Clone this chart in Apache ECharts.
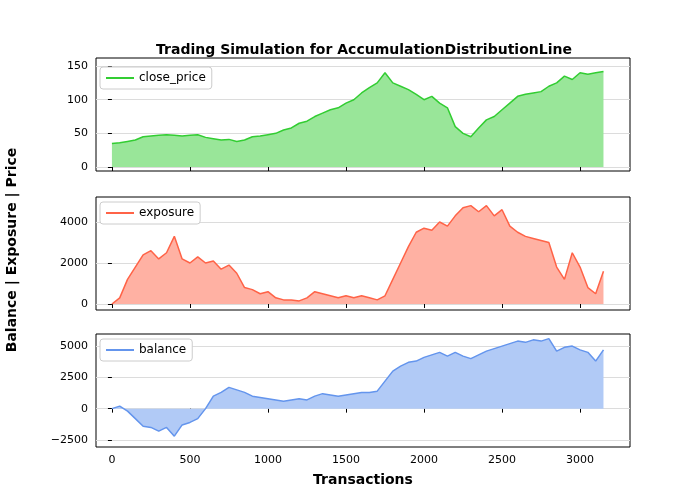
<!DOCTYPE html>
<html lang="en">
<head>
    <meta charset="UTF-8">
    <title>Trading Simulation</title>
    <script src="https://cdn.jsdelivr.net/npm/echarts@6/dist/echarts.min.js"></script>
    <style>
        * { margin: 0; padding: 0; }
        #chart { width: 700px; height: 500px; }
    </style>
</head>
<body>
    <div id="chart"></div>
    <script>
        // transactions sampled every 50
        const steps = []
        for (let i = 0; i <= 3150; i += 50) steps.push(i)

        const closePrice = [35, 36, 38, 40, 45, 46, 47, 48, 47, 46, 47, 48, 44, 42, 40, 41, 38, 40, 45, 46, 48, 50, 55, 58,
            65, 68, 75, 80, 85, 88, 95, 100, 110, 118, 125, 140, 125, 120, 115, 108, 100, 105, 95, 88, 60, 50, 45, 58,
            70, 75, 85, 95, 105, 108, 110, 112, 120, 125, 135, 130, 140, 138, 140, 142]
        const exposure = [0, 300, 1200, 1800, 2400, 2600, 2200, 2500, 3300, 2200, 2000, 2300, 2000, 2100, 1700, 1900,
            1500, 800, 700, 500, 600, 300, 200, 200, 150, 300, 600, 500, 400, 300, 400, 300, 400, 300, 200, 400,
            1200, 2000, 2800, 3500, 3700, 3600, 4000, 3800, 4300, 4700, 4800, 4500, 4800, 4300, 4600, 3800, 3500,
            3300, 3200, 3100, 3000, 1800, 1200, 2500, 1800, 800, 500, 1600]
        const balance = [0, 200, -200, -800, -1400, -1500, -1800, -1500, -2200, -1300, -1100, -800, 0, 1000, 1300, 1700,
            1500, 1300, 1000, 900, 800, 700, 600, 700, 800, 700, 1000, 1200, 1100, 1000, 1100, 1200, 1300, 1300,
            1400, 2200, 3000, 3400, 3700, 3800, 4100, 4300, 4500, 4200, 4500, 4200, 4000, 4300, 4600, 4800, 5000,
            5200, 5400, 5300, 5500, 5400, 5600, 4600, 4900, 5000, 4700, 4500, 3800, 4700]
        const xTicks = [0, 500, 1000, 1500, 2000, 2500, 3000]

        const panels = [
            { name: 'close_price', data: closePrice, line: '#32cd32', fill: '#99e699', min: -6, max: 162, ticks: [0, 50, 100, 150], top: 58, legendTop: 67 },
            { name: 'exposure', data: exposure, line: '#ff6347', fill: '#ffb1a3', min: -293, max: 5220, ticks: [0, 2000, 4000], top: 197, legendTop: 202 },
            { name: 'balance', data: balance, line: '#6495ed', fill: '#b1caf6', min: -3065, max: 5967, ticks: [-2500, 0, 2500, 5000], top: 334, legendTop: 339 }
        ]
        const font = 'DejaVu Sans'

        const myChart = echarts.init(document.querySelector('#chart'))
        const option = {
            animation: false,
            textStyle: { fontFamily: font },
            title: {
                text: 'Trading Simulation for AccumulationDistributionLine',
                left: 359, top: 38, textAlign: 'center',
                textStyle: { fontSize: 14, fontWeight: 'bold', color: '#000', fontFamily: font }
            },
            grid: panels.map(p => ({
                left: 96, right: 70, top: p.top, height: 113, outerBoundsMode: 'none', containLabel: false,
                show: true, borderColor: '#000', borderWidth: 1
            })),
            legend: panels.map(p => ({
                data: [p.name], left: 96 + 4, top: p.legendTop, orient: 'vertical',
                backgroundColor: '#fff', borderColor: '#ccc', borderWidth: 1, borderRadius: 3, padding: [5, 6],
                itemWidth: 28, itemHeight: 2, icon: 'rect', itemGap: 4,
                textStyle: { fontSize: 12, color: '#000', fontFamily: font }
            })),
            xAxis: panels.map((p, i) => ({
                type: 'value', gridIndex: i, min: -102, max: 3320,
                axisLine: { show: false },
                axisTick: { show: true, length: 4, customValues: xTicks, lineStyle: { color: '#000' } },
                axisLabel: { show: i === 2, customValues: xTicks, fontSize: 11, color: '#000', formatter: v => String(v) },
                splitLine: { show: false },
                name: i === 2 ? 'Transactions' : '', nameLocation: 'middle', nameGap: 26,
                nameTextStyle: { fontSize: 14, fontWeight: 'bold', color: '#000' }
            })),
            yAxis: panels.map((p, i) => ({
                type: 'value', gridIndex: i, min: p.min, max: p.max,
                axisLine: { show: false },
                axisTick: { show: true, length: 4, customValues: p.ticks, lineStyle: { color: '#000' } },
                axisLabel: { customValues: p.ticks, fontSize: 11, color: '#000', formatter: v => (v < 0 ? '\u2212' + (-v) : String(v)) },
                splitLine: { show: true, lineStyle: { color: '#dcdcdc' } }
            })),
            graphic: [{
                type: 'text', left: 5, top: 'middle', rotation: Math.PI / 2,
                style: { text: 'Balance | Exposure | Price', fontSize: 14, fontWeight: 'bold', fill: '#000', fontFamily: font }
            }],
            series: panels.map((p, i) => ({
                name: p.name, type: 'line', xAxisIndex: i, yAxisIndex: i,
                data: steps.map((s, j) => [s, p.data[j]]),
                showSymbol: false, color: p.line,
                lineStyle: { color: p.line, width: 1.5 },
                areaStyle: { color: p.fill, opacity: 1, origin: 0 }
            }))
        }
        myChart.setOption(option)
    </script>
</body>
</html>
